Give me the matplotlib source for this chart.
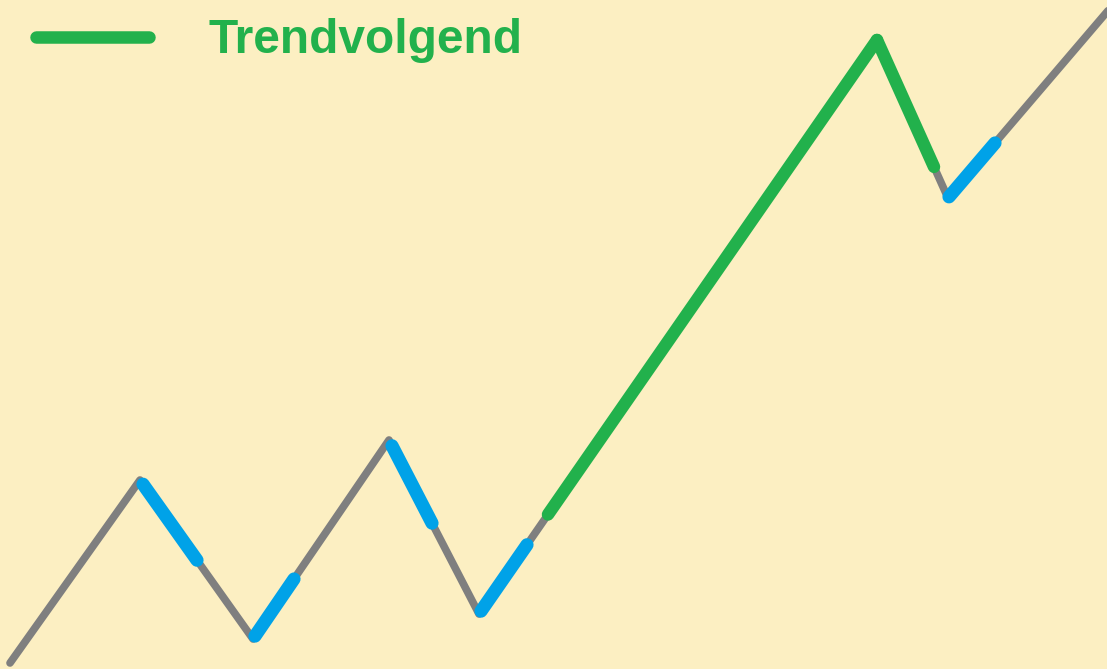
import numpy as np
import matplotlib
matplotlib.use('Agg')
import matplotlib.pyplot as plt
from matplotlib.lines import Line2D

# zigzag turning points (x, price level; price = height above bottom)
swing_x = [10, 140, 253, 389, 479, 877, 948, 1112]
swing_p = [6, 189, 30, 229, 55, 629, 471, 663]

# highlighted stretches along the path, given as x ranges
blue_parts = [(143, 197), (255, 294), (392, 432), (481, 527), (949, 995)]
green_parts = [(548, 877), (877, 934)]

legend_label = 'Trendvolgend'

bg = '#FCEFC2'
grey = '#7F7F7F'
blue = '#00A2E8'
green = '#22B14C'

H = 669

fig = plt.figure(figsize=(11.07, 6.69), dpi=100)
fig.patch.set_facecolor(bg)
ax = fig.add_axes([0, 0, 1, 1])
ax.set_facecolor(bg)

px = np.array(swing_x, dtype=float)
py = H - np.array(swing_p, dtype=float)

ax.plot(px, py, color=grey, lw=5.5, solid_capstyle='round', solid_joinstyle='round', zorder=2)


def piece(x0, x1):
    # sub-path of the zigzag between two x positions
    inner = px[(px > x0) & (px < x1)]
    xs = np.concatenate([[x0], inner, [x1]])
    return xs, np.interp(xs, px, py)


for a, b in blue_parts:
    xs, ys = piece(a, b)
    ax.plot(xs, ys, color=blue, lw=9.5, solid_capstyle='round', solid_joinstyle='round', zorder=3)

for a, b in green_parts:
    xs, ys = piece(a, b)
    ax.plot(xs, ys, color=green, lw=9, solid_capstyle='round', solid_joinstyle='round', zorder=3)

ax.set_xlim(0, 1107)
ax.set_ylim(H, 0)
ax.axis('off')

handle = Line2D([0], [0], color=green, lw=9, solid_capstyle='round')
leg = ax.legend([handle], [legend_label], loc='upper left', bbox_to_anchor=(0.0325, 0.9725),
                frameon=False, borderpad=0, borderaxespad=0, handlelength=2.35,
                handletextpad=1.25,
                prop={'family': 'Liberation Sans', 'weight': 'bold', 'size': 34.5})
for t in leg.get_texts():
    t.set_color(green)

fig.savefig('out.png', dpi=100, facecolor=bg)
